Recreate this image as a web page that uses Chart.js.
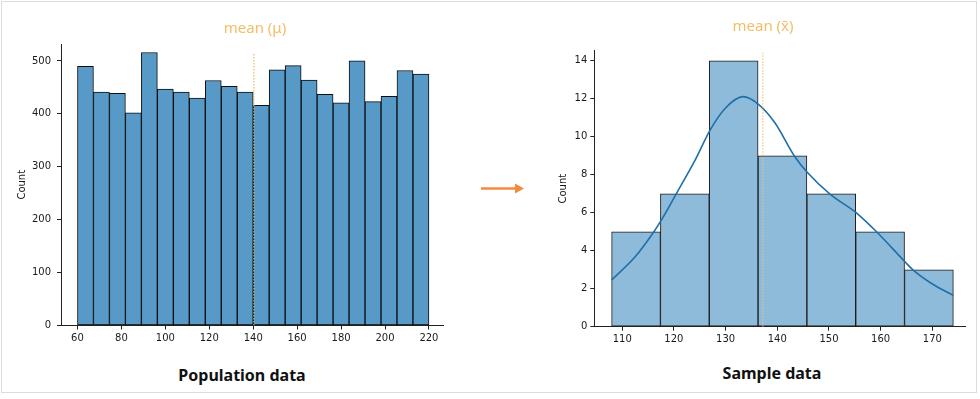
<!DOCTYPE html>
<html>
<head>
<meta charset="utf-8">
<script src="https://cdn.jsdelivr.net/npm/chart.js@4.4.1/dist/chart.umd.min.js"></script>
<style>
  html, body { margin:0; padding:0; background:#fff; }
  #stage { position:relative; width:980px; height:399px; overflow:hidden; }
  #frame { position:absolute; left:1px; top:1px; width:976px; height:392px; border:1px solid #dcdcdc; box-sizing:border-box; }
  .cv { position:absolute; }
  .lbl { position:absolute; transform:translate(-50%,-50%); white-space:nowrap; font-family:"Noto Sans", "Open Sans", sans-serif; }
  .mean { color:#f2be68; font-size:15px; }
  .bottom { color:#111; font-size:16px; font-weight:700; }
</style>
</head>
<body>
<div id="stage">
  <div id="frame"></div>
  <div class="cv" style="left:0;top:0;width:460px;height:360px;"><canvas id="popChart" width="460" height="360"></canvas></div>
  <div class="cv" style="left:540px;top:0;width:440px;height:360px;"><canvas id="sampleChart" width="440" height="360"></canvas></div>
  <div class="lbl mean" style="left:255px;top:27px;">mean (μ)</div>
  <div class="lbl mean" style="left:763px;top:25px;">mean (x̄)</div>
  <div class="lbl bottom" style="left:242px;top:375px;">Population data</div>
  <div class="lbl bottom" style="left:772px;top:373px;">Sample data</div>
  <svg style="position:absolute;left:478px;top:180px;" width="50" height="18">
    <line x1="3" y1="8.5" x2="39" y2="8.5" stroke="#f58a3e" stroke-width="2.4"/>
    <polygon points="37,3.5 46,8.5 37,13.5" fill="#f58a3e"/>
  </svg>
</div>
<script>
// ---- Population data (histogram) ----
const popRange = [60, 220];
const popCounts = [490, 441, 439, 402, 516, 447, 441, 430, 463, 452, 441, 416, 483, 491, 464, 437, 421, 500, 423, 433, 482, 475];
const popMean = 140.3;
const popXTicks = [60, 80, 100, 120, 140, 160, 180, 200, 220];
const popYTicks = [0, 100, 200, 300, 400, 500];

// ---- Sample data (histogram + KDE) ----
const sampleRange = [107.95, 174.06];
const sampleCounts = [5, 7, 14, 9, 7, 5, 3];
const sampleMean = 137.2;
const kdeX = [107.95, 112.5, 116.0, 117.6, 120.5, 124.1, 127.0, 129.9, 133.4, 136.3, 139.5, 143.4, 145.7, 150.2, 155.4, 159.2, 164.7, 166.3, 170.0, 174.06];
const kdeY = [2.46, 3.68, 4.95, 5.62, 7.02, 8.77, 10.35, 11.49, 12.11, 11.72, 10.75, 8.95, 8.16, 6.98, 5.97, 5.0, 3.42, 2.98, 2.25, 1.65];
const sampleXTicks = [110, 120, 130, 140, 150, 160, 170];
const sampleYTicks = [0, 2, 4, 6, 8, 10, 12, 14];

function binCenters(range, n) {
  const w = (range[1] - range[0]) / n;
  return Array.from({length: n}, (_, i) => range[0] + w * (i + 0.5));
}

const tickFont = { family: '"DejaVu Sans", sans-serif', size: 10 };
const axisColor = '#222';

function makeScales(o) {
  return {
    x: {
      type: 'linear', min: o.xMin, max: o.xMax, offset: false,
      afterBuildTicks: s => { s.ticks = o.xTicks.map(v => ({ value: v })); },
      afterFit: s => { s.height = o.xHeight; },
      grid: { display: true, drawOnChartArea: false, drawTicks: true, tickLength: 4, color: axisColor, offset: false },
      border: { display: true, color: axisColor, width: 1 },
      ticks: { font: tickFont, color: '#1a1a1a', padding: 3, maxRotation: 0, autoSkip: false }
    },
    y: {
      type: 'linear', min: 0, max: o.yMax,
      afterBuildTicks: s => { s.ticks = o.yTicks.map(v => ({ value: v })); },
      afterFit: s => { s.width = o.yWidth; },
      grid: { display: true, drawOnChartArea: false, drawTicks: true, tickLength: 4, color: axisColor },
      border: { display: true, color: axisColor, width: 1 },
      ticks: { font: tickFont, color: '#1a1a1a', padding: o.yPad, autoSkip: false },
      title: { display: true, text: 'Count', font: tickFont, color: '#1a1a1a', padding: { top: o.titlePad, bottom: 0 } }
    }
  };
}

const commonOpts = {
  responsive: false, animation: false,
  plugins: { legend: { display: false }, tooltip: { enabled: false } }
};

// Population chart
const popCentersArr = binCenters(popRange, popCounts.length);
new Chart(document.getElementById('popChart'), {
  type: 'bar',
  data: {
    datasets: [
      {
        type: 'line', order: 0,
        data: [{ x: popMean, y: 0 }, { x: popMean, y: 513 }],
        borderColor: '#eab35c', borderWidth: 1.1, borderDash: [1.5, 1.5],
        pointRadius: 0, fill: false
      },
      {
        type: 'bar', order: 1,
        data: popCentersArr.map((c, i) => ({ x: c, y: popCounts[i] })),
        backgroundColor: '#5799c7', borderColor: '#0d0d0d', borderWidth: 1, borderSkipped: false,
        barPercentage: 1, categoryPercentage: 1, grouped: false
      }
    ]
  },
  options: Object.assign({}, commonOpts, {
    layout: { padding: { top: 44, right: 17, left: 0, bottom: 0 } },
    scales: makeScales({ xMin: 52.5, xMax: 226.4, xTicks: popXTicks, yTicks: popYTicks, yMax: 532, xHeight: 34.5, yWidth: 61, yPad: 6, titlePad: 16 })
  })
});

// Sample chart
const sampleCentersArr = binCenters(sampleRange, sampleCounts.length);
new Chart(document.getElementById('sampleChart'), {
  type: 'bar',
  data: {
    datasets: [
      {
        type: 'line', order: 0,
        data: [{ x: sampleMean, y: 0 }, { x: sampleMean, y: 14.44 }],
        borderColor: '#eec07a', borderWidth: 1.1, borderDash: [1.5, 1.5],
        pointRadius: 0, fill: false
      },
      {
        type: 'line', order: 0,
        data: kdeX.map((x, i) => ({ x: x, y: kdeY[i] })),
        borderColor: '#1f6fa8', borderWidth: 1.6, cubicInterpolationMode: 'monotone',
        pointRadius: 0, fill: false
      },
      {
        type: 'bar', order: 1,
        data: sampleCentersArr.map((c, i) => ({ x: c, y: sampleCounts[i] })),
        backgroundColor: '#8fbbdb', borderColor: '#1a1a1a', borderWidth: 1, borderSkipped: false,
        barPercentage: 1, categoryPercentage: 1, grouped: false
      }
    ]
  },
  options: Object.assign({}, commonOpts, {
    layout: { padding: { top: 50.7, right: 14.3, left: 0, bottom: 0 } },
    scales: makeScales({ xMin: 104.6, xMax: 176.45, xTicks: sampleXTicks, yTicks: sampleYTicks, yMax: 14.53, xHeight: 33.3, yWidth: 54.3, yPad: 3, titlePad: 17.5 })
  })
});
</script>
</body>
</html>
